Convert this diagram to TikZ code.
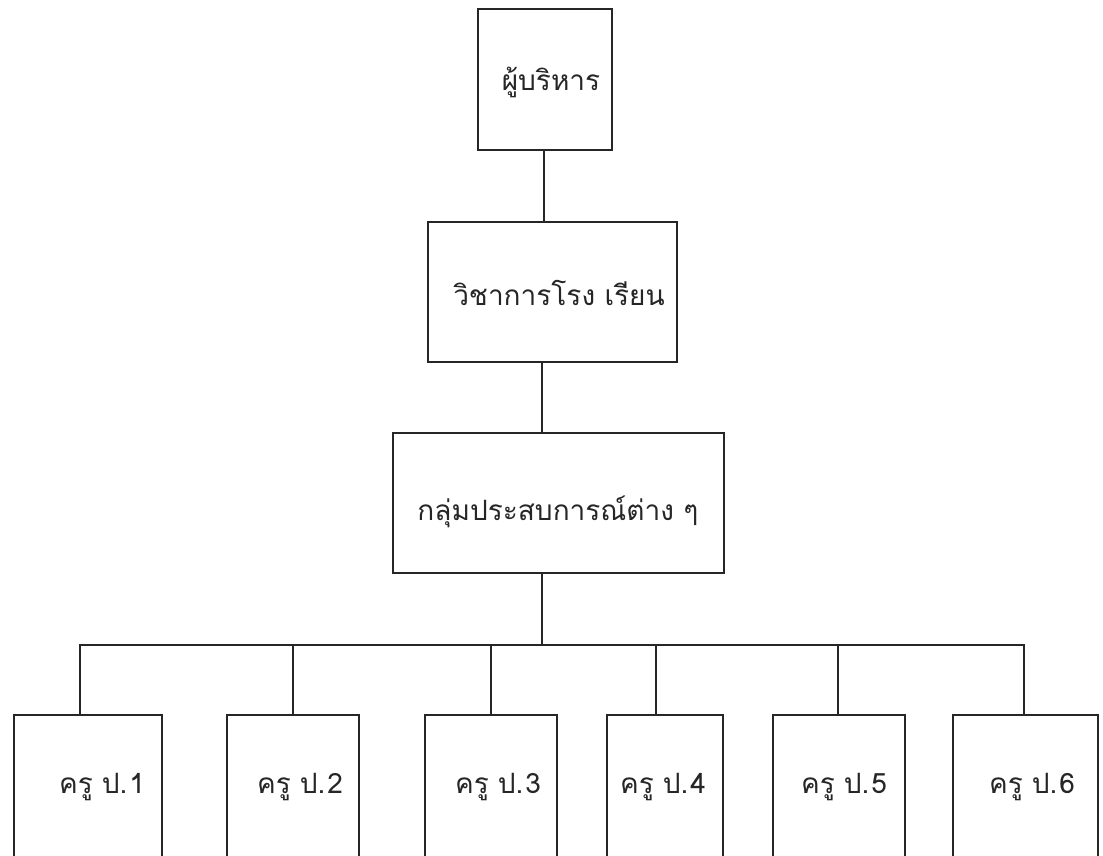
\documentclass[tikz,border=0pt]{standalone}
\usepackage{fontspec}
\newfontfamily\thaifont[Script=Thai]{Loma}
\newcommand{\kru}[1]{ครู\hspace{9pt}ป.\hspace{2pt}#1}
\begin{document}
\begin{tikzpicture}[x=1pt,y=-1pt,
  line width=2.4pt,
  ink/.style={draw=black!85},
  box/.style={ink, rectangle, inner sep=0pt, fill=none},
  lbl/.style={inner sep=0pt, text=black!85, font=\thaifont\fontsize{28}{32}\selectfont},
  wire/.style={ink, line cap=rect}]
\useasboundingbox (0,0) rectangle (1103,855);
\fill[white] (0,0) rectangle (1103,855);
\clip (0,0) rectangle (1103,855);

% upper chain
\node[box, minimum width=134pt, minimum height=141pt] (b1) at (545,79.5) {};
\node[box, minimum width=249pt, minimum height=140pt] (b2) at (552.5,292) {};
\node[box, minimum width=331pt, minimum height=140pt] (b3) at (558.5,503) {};
\node[lbl] (t1) at (551,82) {ผู้บริหาร};
\node[lbl] (t2) at (559,293) {วิชาการโรง เรียน};
\node[lbl] (t3) at (558,512) {กลุ่มประสบการณ์ต่าง ๆ};

% bottom row (cut by the lower edge)
\node[box, minimum width=148pt, minimum height=165pt] (c1) at (88,797.5) {};
\node[box, minimum width=132pt, minimum height=165pt] (c2) at (293,797.5) {};
\node[box, minimum width=132pt, minimum height=165pt] (c3) at (491,797.5) {};
\node[box, minimum width=116pt, minimum height=165pt] (c4) at (665,797.5) {};
\node[box, minimum width=132pt, minimum height=165pt] (c5) at (839,797.5) {};
\node[box, minimum width=145pt, minimum height=165pt] (c6) at (1025.5,797.5) {};
\node[lbl] (u1) at (102,787) {\kru{1}};
\node[lbl] (u2) at (300,787) {\kru{2}};
\node[lbl] (u3) at (498,787) {\kru{3}};
\node[lbl] (u4) at (663,787) {\kru{4}};
\node[lbl] (u5) at (844,787) {\kru{5}};
\node[lbl] (u6) at (1032,787) {\kru{6}};

% connector coordinates
\coordinate (s1) at (544,0);
\coordinate (s2) at (542,0);
\coordinate (bus) at (0,645);
\coordinate (d1) at (80,0);
\coordinate (d2) at (293,0);
\coordinate (d3) at (491,0);
\coordinate (d4) at (656,0);
\coordinate (d5) at (838,0);
\coordinate (d6) at (1024,0);

\draw[ink] (s1 |- b1.south) -- (s1 |- b2.north);
\draw[ink] (s2 |- b2.south) -- (s2 |- b3.north);
\draw[ink] (s2 |- b3.south) -- (s2 |- bus);
\draw[wire] (d1 |- bus) -- (d6 |- bus);
\foreach \i in {1,...,6}{
  \draw[ink] (d\i |- bus) -- (d\i |- c\i.north);
}
\end{tikzpicture}
\end{document}
